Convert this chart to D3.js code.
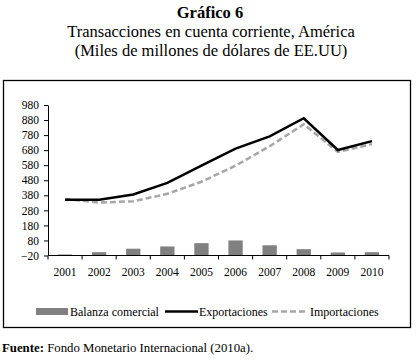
<!DOCTYPE html>
<html><head><meta charset="utf-8">
<script src="https://cdn.jsdelivr.net/npm/d3@7"></script>
<style>body{margin:0;background:#fff}svg{display:block}</style>
</head><body>
<script>
const years = ["2001","2002","2003","2004","2005","2006","2007","2008","2009","2010"];
const balanza = [-13, 2, 25, 40, 62, 80, 48, 22, 0, 2];
const exportaciones = [350, 350, 385, 463, 577, 690, 771, 892, 681, 740];
const importaciones = [355, 332, 340, 390, 470, 577, 706, 852, 668, 720];
const yTicks = [-20, 80, 180, 280, 380, 480, 580, 680, 780, 880, 980];

const W = 420, H = 360;
const svg = d3.select("body").append("svg").attr("width", W).attr("height", H);
const serif = "'Liberation Serif', 'Times New Roman', serif";

// titles
svg.append("text").attr("x", 210).attr("y", 17.5).attr("text-anchor", "middle")
  .attr("font-family", serif).attr("font-weight", "bold").attr("font-size", 16.5).text("Gráfico 6");
svg.append("text").attr("x", 211).attr("y", 37).attr("text-anchor", "middle")
  .attr("font-family", serif).attr("font-size", 16.5).text("Transacciones en cuenta corriente, América");
svg.append("text").attr("x", 211).attr("y", 56).attr("text-anchor", "middle")
  .attr("font-family", serif).attr("font-size", 16.5).text("(Miles de millones de dólares de EE.UU)");

// frame
svg.append("rect").attr("x", 3.5).attr("y", 80.5).attr("width", 407).attr("height", 247)
  .attr("fill", "none").attr("stroke", "#000").attr("stroke-width", 1.3);

const x = d3.scaleBand().domain(years).range([48, 389]);
const y = d3.scaleLinear().domain([-20, 980]).range([255.5, 105]);

// bars
svg.append("g").selectAll("rect").data(years).join("rect")
  .attr("x", d => x(d) + x.bandwidth() * 0.29)
  .attr("width", x.bandwidth() * 0.42)
  .attr("y", (d, i) => y(Math.max(balanza[i], -20)))
  .attr("height", (d, i) => Math.max(1, y(-20) - y(balanza[i])))
  .attr("fill", "#808080");

// axes
const yAxis = d3.axisLeft(y).tickValues(yTicks).tickSize(4).tickPadding(5).tickSizeOuter(0);
const gy = svg.append("g").attr("transform", "translate(48,0)").call(yAxis);
gy.selectAll("text").attr("font-family", serif).attr("font-size", 11.5).attr("fill", "#000");
gy.select(".domain").attr("stroke", "#000");

const gx = svg.append("g").attr("transform", `translate(0,${y(-20)})`);
gx.append("line").attr("x1", 48).attr("x2", 389).attr("stroke", "#000");
const bounds = years.map(d => x(d)).concat([389]);
gx.selectAll(".tk").data(bounds).join("line").attr("class", "tk")
  .attr("x1", d => d).attr("x2", d => d).attr("y1", 0).attr("y2", 4).attr("stroke", "#000");
gx.selectAll(".lb").data(years).join("text").attr("class", "lb")
  .attr("x", d => x(d) + x.bandwidth() / 2).attr("y", 20).attr("text-anchor", "middle")
  .attr("font-family", serif).attr("font-size", 11.5).text(d => d);

// lines
const line = d3.line().x((d, i) => x(years[i]) + x.bandwidth() / 2).y(d => y(d));
svg.append("path").datum(importaciones).attr("d", line).attr("fill", "none")
  .attr("stroke", "#a6a6a6").attr("stroke-width", 2.5).attr("stroke-dasharray", "6,3");
svg.append("path").datum(exportaciones).attr("d", line).attr("fill", "none")
  .attr("stroke", "#000").attr("stroke-width", 2.5);

// legend
const lg = svg.append("g");
const ly = 311.5;
lg.append("rect").attr("x", 36).attr("y", ly - 3.5).attr("width", 32).attr("height", 7).attr("fill", "#808080");
lg.append("text").attr("x", 70).attr("y", ly + 4).attr("font-family", serif).attr("font-size", 12).text("Balanza comercial");
lg.append("line").attr("x1", 165).attr("x2", 198).attr("y1", ly).attr("y2", ly).attr("stroke", "#000").attr("stroke-width", 2.5);
lg.append("text").attr("x", 199).attr("y", ly + 4).attr("font-family", serif).attr("font-size", 12).text("Exportaciones");
lg.append("line").attr("x1", 272).attr("x2", 308).attr("y1", ly).attr("y2", ly).attr("stroke", "#a6a6a6").attr("stroke-width", 2.5).attr("stroke-dasharray", "6,3");
lg.append("text").attr("x", 310).attr("y", ly + 4).attr("font-family", serif).attr("font-size", 12).text("Importaciones");

// source
const src = svg.append("text").attr("x", 2).attr("y", 352).attr("font-family", serif).attr("font-size", 12.8);
src.append("tspan").attr("font-weight", "bold").text("Fuente:");
src.append("tspan").text(" Fondo Monetario Internacional (2010a).");
</script>
</body></html>
